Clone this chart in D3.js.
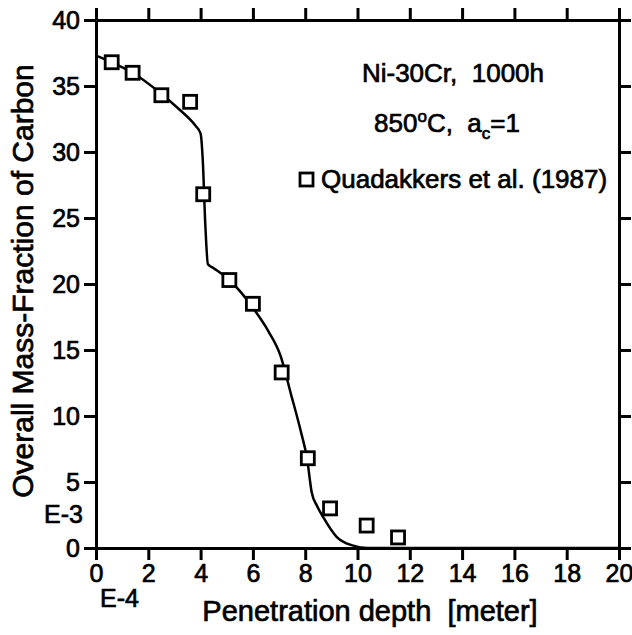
<!DOCTYPE html>
<html lang="en">
<head>
<meta charset="UTF-8" />
<script src="https://d3js.org/d3.v7.min.js"></script>
<style>
  body { margin: 0; background: #fff; }
  text { font-family: "Liberation Sans", Arial, sans-serif; fill: #000; }
</style>
</head>
<body>
<svg width="632" height="635"></svg>
<script>
// measured points (Quadakkers et al. 1987), depth in E-4 m, carbon in E-3
var depth  = [0.6, 1.4, 2.5, 3.6, 4.1, 5.1, 6.0, 7.1, 8.1, 8.95, 10.35, 11.55];
var carbon = [36.8, 36.0, 34.3, 33.8, 26.8, 20.3, 18.5, 13.3, 6.8, 3.0, 1.7, 0.8];

// model curve
var fitDepth  = [0, 0.6, 1.4, 2.5, 3.2, 3.8, 4.0, 4.08, 4.18, 4.28, 4.5, 5.1, 6.0, 6.6, 7.05, 7.45, 7.85, 8.07, 8.25, 8.45, 8.7, 9.2, 9.8, 10.4, 20];
var fitCarbon = [37.3, 36.8, 36.0, 34.4, 33.2, 32.0, 31.4, 29.5, 24.5, 21.5, 21.2, 20.3, 18.2, 16.4, 14.6, 11.7, 8.7, 6.8, 4.2, 3.2, 2.3, 0.85, 0.2, 0, 0];

var xTicks = d3.range(0, 21, 2);
var yTicks = d3.range(0, 41, 5);

var svg = d3.select("svg"),
  margin = { top: 20, right: 13, bottom: 87, left: 96 },
  width = +svg.attr("width") - margin.left - margin.right,
  height = +svg.attr("height") - margin.top - margin.bottom,
  g = svg.append("g").attr("transform", "translate(" + margin.left + "," + margin.top + ")");

var x = d3.scaleLinear().domain([0, 20]).range([0, width]);
var y = d3.scaleLinear().domain([0, 40]).range([height, 0]);

function styleAxis(sel) {
  sel.select(".domain").attr("stroke", "#000").attr("stroke-width", 3);
  sel.selectAll(".tick line").attr("stroke", "#000").attr("stroke-width", 3);
  sel.selectAll(".tick text").attr("font-size", 25).attr("fill", "#000")
    .attr("stroke", "#000").attr("stroke-width", 0.7)
    .style("font-family", '"Liberation Sans", Arial, sans-serif');
}

g.append("g").attr("transform", "translate(0," + height + ")")
  .call(d3.axisBottom(x).tickValues(xTicks).tickSize(12).tickSizeOuter(0).tickPadding(4))
  .call(styleAxis);
g.append("g")
  .call(d3.axisTop(x).tickValues(xTicks).tickSize(12).tickSizeOuter(0).tickFormat(""))
  .call(styleAxis);
g.append("g")
  .call(d3.axisLeft(y).tickValues(yTicks).tickSize(12).tickSizeOuter(0).tickPadding(4))
  .call(styleAxis);
g.append("g").attr("transform", "translate(" + width + ",0)")
  .call(d3.axisRight(y).tickValues(yTicks).tickSize(12).tickSizeOuter(0).tickFormat(""))
  .call(styleAxis);

// model curve
var line = d3.line()
  .x(function (d, i) { return x(fitDepth[i]); })
  .y(function (d, i) { return y(fitCarbon[i]); })
  .curve(d3.curveMonotoneX);

g.append("path")
  .datum(fitDepth)
  .attr("d", line)
  .attr("fill", "none")
  .attr("stroke", "#000")
  .attr("stroke-width", 2.5);

// measured squares
var s = 13;
g.append("g").selectAll("rect")
  .data(depth)
  .enter()
  .append("rect")
  .attr("x", function (d) { return x(d) - s / 2; })
  .attr("y", function (d, i) { return y(carbon[i]) - s / 2; })
  .attr("width", s)
  .attr("height", s)
  .attr("fill", "#fff")
  .attr("stroke", "#000")
  .attr("stroke-width", 2.8);

// annotations
var note = svg.append("g").attr("font-size", 26).attr("stroke", "#000").attr("stroke-width", 0.7);
note.append("text").attr("x", 453).attr("y", 82).attr("text-anchor", "middle")
  .attr("xml:space", "preserve").text("Ni-30Cr,  1000h");
var t2 = note.append("text").attr("x", 447).attr("y", 132).attr("text-anchor", "middle")
  .attr("xml:space", "preserve");
t2.append("tspan").text("850");
t2.append("tspan").attr("font-size", 17).attr("dy", -10).text("o");
t2.append("tspan").attr("dy", 10).text("C,  a");
t2.append("tspan").attr("font-size", 17).attr("dy", 7).text("c");
t2.append("tspan").attr("dy", -7).text("=1");

note.append("rect").attr("x", 300).attr("y", 173).attr("width", 13).attr("height", 13)
  .attr("fill", "#fff").attr("stroke", "#000").attr("stroke-width", 2.8);
note.append("text").attr("x", 321).attr("y", 188).text("Quadakkers et al. (1987)");

// exponents
note.append("text").attr("x", 83).attr("y", 523).attr("text-anchor", "end").attr("font-size", 25).text("E-3");
note.append("text").attr("x", 100).attr("y", 607).attr("font-size", 25).text("E-4");

// axis titles
note.append("text").attr("x", 370).attr("y", 621).attr("text-anchor", "middle")
  .attr("font-size", 29).attr("xml:space", "preserve").text("Penetration depth  [meter]");
note.append("text").attr("transform", "translate(33,281) rotate(-90)")
  .attr("text-anchor", "middle").attr("font-size", 30).text("Overall Mass-Fraction of Carbon");
</script>
</body>
</html>
